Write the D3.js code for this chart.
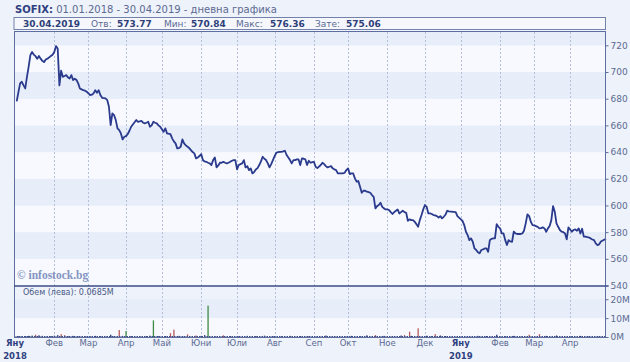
<!DOCTYPE html>
<html><head><meta charset="utf-8">
<script src="https://cdn.jsdelivr.net/npm/d3@7"></script>
<style>
html,body{margin:0;padding:0;background:#eef2fa;}
svg{display:block;font-family:"DejaVu Sans",Verdana,sans-serif;}
</style></head>
<body>
<svg id="chart" width="630" height="362"></svg>
<script>
// ---------- DATA ----------
const priceDates = [
"2018-01-02","2018-01-03","2018-01-04","2018-01-05","2018-01-08","2018-01-09","2018-01-10","2018-01-11","2018-01-12",
"2018-01-15","2018-01-16","2018-01-17","2018-01-18","2018-01-19","2018-01-22","2018-01-23","2018-01-24","2018-01-25","2018-01-26",
"2018-01-29","2018-01-30","2018-01-31","2018-02-01","2018-02-02","2018-02-05","2018-02-06","2018-02-07","2018-02-08","2018-02-09",
"2018-02-12","2018-02-13","2018-02-14","2018-02-15","2018-02-16","2018-02-19","2018-02-20","2018-02-21","2018-02-22","2018-02-23",
"2018-02-26","2018-02-27","2018-02-28","2018-03-01","2018-03-02","2018-03-05","2018-03-06","2018-03-07","2018-03-08","2018-03-09",
"2018-03-12","2018-03-13","2018-03-14","2018-03-15","2018-03-16","2018-03-19","2018-03-20","2018-03-21","2018-03-22","2018-03-23",
"2018-03-26","2018-03-27","2018-03-28","2018-03-29","2018-03-30","2018-04-02","2018-04-03","2018-04-04","2018-04-05","2018-04-10",
"2018-04-11","2018-04-12","2018-04-13","2018-04-16","2018-04-17","2018-04-18","2018-04-19","2018-04-20","2018-04-23","2018-04-24",
"2018-04-25","2018-04-26","2018-04-27","2018-04-30","2018-05-02","2018-05-03","2018-05-04","2018-05-08","2018-05-09","2018-05-10",
"2018-05-11","2018-05-14","2018-05-15","2018-05-16","2018-05-17","2018-05-18","2018-05-21","2018-05-22","2018-05-23","2018-05-25",
"2018-05-28","2018-05-29","2018-05-30","2018-05-31","2018-06-01","2018-06-04","2018-06-05","2018-06-06","2018-06-07","2018-06-08",
"2018-06-11","2018-06-12","2018-06-13","2018-06-14","2018-06-15","2018-06-18","2018-06-19","2018-06-20","2018-06-21","2018-06-22",
"2018-06-25","2018-06-26","2018-06-27","2018-06-28","2018-06-29","2018-07-02","2018-07-03","2018-07-04","2018-07-05","2018-07-06",
"2018-07-09","2018-07-10","2018-07-11","2018-07-12","2018-07-13","2018-07-16","2018-07-17","2018-07-18","2018-07-19","2018-07-20",
"2018-07-23","2018-07-24","2018-07-25","2018-07-26","2018-07-27","2018-07-30","2018-07-31","2018-08-01","2018-08-02","2018-08-03",
"2018-08-06","2018-08-07","2018-08-08","2018-08-09","2018-08-10","2018-08-13","2018-08-14","2018-08-15","2018-08-16","2018-08-17",
"2018-08-20","2018-08-21","2018-08-22","2018-08-23","2018-08-24","2018-08-27","2018-08-28","2018-08-29","2018-08-30","2018-08-31",
"2018-09-03","2018-09-04","2018-09-05","2018-09-07","2018-09-10","2018-09-11","2018-09-12","2018-09-13","2018-09-14","2018-09-17",
"2018-09-18","2018-09-19","2018-09-20","2018-09-21","2018-09-25","2018-09-26","2018-09-27","2018-09-28","2018-10-01","2018-10-02",
"2018-10-03","2018-10-04","2018-10-05","2018-10-08","2018-10-09","2018-10-10","2018-10-11","2018-10-12","2018-10-15","2018-10-16",
"2018-10-17","2018-10-18","2018-10-19","2018-10-22","2018-10-23","2018-10-24","2018-10-25","2018-10-26","2018-10-29","2018-10-30",
"2018-10-31","2018-11-01","2018-11-02","2018-11-05","2018-11-06","2018-11-07","2018-11-08","2018-11-09","2018-11-12","2018-11-13",
"2018-11-14","2018-11-15","2018-11-16","2018-11-19","2018-11-20","2018-11-21","2018-11-22","2018-11-23","2018-11-26","2018-11-27",
"2018-11-28","2018-11-29","2018-11-30","2018-12-03","2018-12-04","2018-12-05","2018-12-06","2018-12-07","2018-12-10","2018-12-11",
"2018-12-12","2018-12-13","2018-12-14","2018-12-17","2018-12-18","2018-12-19","2018-12-20","2018-12-21","2018-12-27","2018-12-28",
"2019-01-02","2019-01-03","2019-01-04","2019-01-07","2019-01-08","2019-01-09","2019-01-10","2019-01-11","2019-01-14","2019-01-15",
"2019-01-16","2019-01-17","2019-01-18","2019-01-21","2019-01-22","2019-01-23","2019-01-24","2019-01-25","2019-01-28","2019-01-29",
"2019-01-30","2019-01-31","2019-02-01","2019-02-04","2019-02-05","2019-02-06","2019-02-07","2019-02-08","2019-02-11","2019-02-12",
"2019-02-13","2019-02-14","2019-02-15","2019-02-18","2019-02-19","2019-02-20","2019-02-21","2019-02-22","2019-02-25","2019-02-26",
"2019-02-27","2019-02-28","2019-03-01","2019-03-05","2019-03-06","2019-03-07","2019-03-08","2019-03-11","2019-03-12","2019-03-13",
"2019-03-14","2019-03-15","2019-03-18","2019-03-19","2019-03-20","2019-03-21","2019-03-22","2019-03-25","2019-03-26","2019-03-27",
"2019-03-28","2019-03-29","2019-04-01","2019-04-02","2019-04-03","2019-04-04","2019-04-05","2019-04-08","2019-04-09","2019-04-10",
"2019-04-11","2019-04-12","2019-04-15","2019-04-16","2019-04-17","2019-04-18","2019-04-19","2019-04-22","2019-04-23","2019-04-24",
"2019-04-25","2019-04-30"];
const priceValues = [
678,685,691.5,692.7,690,687.7,696.4,704,712.7,
715,713,711.9,710,712,710,708.4,707.4,709.4,710,
711,712,713,715,719.4,717.6,690,701,696.4,697,
697.7,696,695.2,697.7,694,695,694,691.5,687.7,687,
686.4,686,685.2,684,682.7,683,684,686.4,684.4,686.4,
682.7,680.7,680.5,680.2,679,674,660.2,669,667.7,664,
657.8,656.5,654,649.5,651.5,652,653.5,656,659,664,
662.7,663,663.4,662,661.5,662,662.7,659,660,662.7,
662,661.5,660,659,655.2,657.8,654,653.5,650.3,648,
646.5,642.8,643,644,649.5,646.5,645,644,643,640,
639,635.3,636,637,638.5,634,633,632.7,632,631.5,
630.3,634,636,628.5,630,632,632,632.7,632,631.5,
632,632.7,633.5,634,634,627,630.3,631,631.5,634,
628.5,629.5,626.5,627.8,624,625,627,628,630.3,633,
636.5,635,634,631.5,628.5,631,634,637,639.5,640,
640.2,640.2,640.5,641,637.8,636,634,631.5,634,634,
634.5,634.5,630.3,635.3,635,634.5,630.3,633.5,632,632.5,
632.7,629,628,630.3,632,631,629.5,628.5,629,629.5,
627.8,627,626.5,624,624,624,624.5,626.5,627.8,623.5,
624,624,620.3,617.8,618.3,614,609.5,611,611,610.3,
610,609.5,607.8,606.5,597.8,599.5,600.3,602,599,597.8,
597,597,596.5,595,593.6,595,596,597,594,595,
596,595,594.5,588.5,589.6,589,589,587.8,586,584,
589,592.8,597,600.3,599,594,594,593.6,592.8,592.5,
592,591,592,590.3,591.5,593,596,595.5,595,592,
588.5,585.3,580.3,577.8,574,575.3,572.8,567.8,566.6,565,
564.1,566.6,567,567.8,567.8,565.3,574,575,575.3,575.3,
586,584,582.8,579,579,574,570.3,574,573,572.8,
580.3,579,578.6,578.6,578.6,579,581,586.6,593.3,592,
587.8,585.3,585,584,582.8,583,583.6,582.8,580.3,582.8,
584.6,589,599.5,595.3,586.6,584,581.6,580.3,580,579,
574.6,583.6,582,580.3,581.6,582,581,582.8,579,582.5,
576.6,576.6,576.2,576,575.3,574.5,574,571.6,570.3,570.8,
573,575.06];

// volume (million leva) and day direction: u = up, d = down, n = neutral
const volDates = [
"2018-01-03","2018-01-05","2018-01-09","2018-01-11","2018-01-15","2018-01-17","2018-01-19","2018-01-23","2018-01-26","2018-01-30",
"2018-02-01","2018-02-05","2018-02-07","2018-02-09","2018-02-13","2018-02-16","2018-02-21","2018-02-27","2018-03-02","2018-03-07",
"2018-03-12","2018-03-16","2018-03-20","2018-03-22","2018-03-27","2018-03-29","2018-04-02","2018-04-05","2018-04-12","2018-04-18",
"2018-04-20","2018-04-24","2018-04-27","2018-05-03","2018-05-08","2018-05-10","2018-05-15","2018-05-18","2018-05-22","2018-05-29",
"2018-06-01","2018-06-05","2018-06-07","2018-06-13","2018-06-20","2018-06-26","2018-07-03","2018-07-10","2018-07-17","2018-07-24",
"2018-07-31","2018-08-07","2018-08-14","2018-08-22","2018-08-29","2018-09-05","2018-09-12","2018-09-19","2018-09-27","2018-10-03",
"2018-10-10","2018-10-16","2018-10-23","2018-10-30","2018-11-06","2018-11-13","2018-11-15","2018-11-20","2018-11-21","2018-11-27",
"2018-12-04","2018-12-07","2018-12-11","2018-12-14","2018-12-19","2019-01-08","2019-01-15","2019-01-22","2019-01-30","2019-02-06",
"2019-02-13","2019-02-20","2019-02-26","2019-03-06","2019-03-12","2019-03-20","2019-04-02","2019-04-09","2019-04-16","2019-04-24"];
const volValues = [
0.4,0.3,0.5,0.6,0.8,1.2,0.9,0.6,0.4,0.5,
0.7,1.0,1.5,1.0,0.5,0.6,0.3,0.4,0.3,0.6,
0.4,0.5,1.2,0.5,3.7,0.6,3.2,0.5,0.4,0.5,
0.7,8.8,0.4,0.5,2.0,3.9,0.6,0.4,1.4,0.8,
0.6,1.0,16.6,0.4,0.9,0.5,0.4,0.6,0.5,0.7,
0.5,0.4,0.6,0.5,0.4,0.5,0.8,0.4,0.5,0.6,
0.5,0.9,1.0,0.6,0.5,0.8,1.0,2.8,0.6,4.6,
0.7,0.5,1.5,0.8,0.5,0.4,0.6,0.5,1.2,0.4,
0.6,0.5,1.2,1.5,0.6,0.8,0.4,0.6,0.4,0.5];
const volTypes = [
"n","n","n","n","u","d","n","n","n","n",
"n","n","d","d","n","n","n","n","n","n",
"n","n","n","n","d","n","u","n","n","n",
"n","u","n","n","d","d","n","n","d","d",
"n","n","u","n","d","n","n","n","n","n",
"n","n","n","n","n","n","n","n","n","n",
"n","n","d","n","n","n","d","d","n","d",
"n","n","d","n","n","n","n","n","n","n",
"n","n","d","d","n","n","n","n","n","n"];

const monthDates = ["2018-01-01","2018-02-01","2018-03-01","2018-04-01","2018-05-01","2018-06-01","2018-07-01","2018-08-01",
"2018-09-01","2018-10-01","2018-11-01","2018-12-01","2019-01-01","2019-02-01","2019-03-01","2019-04-01"];
const monthLabels = ["Яну","Фев","Мар","Апр","Май","Юни","Юли","Авг","Сеп","Окт","Ное","Дек","Яну","Фев","Мар","Апр"];
const priceTicks = [540,560,580,600,620,640,660,680,700,720];
const volTicks = [0,10,20];
const volTickLabels = ["0M","10M","20M"];
const headerLabels = ["Отв:","Мин:","Макс:","Зате:"];
const headerValues = ["573.77","570.84","576.36","575.06"];

// ---------- DRAW ----------
const parse = d3.timeParse("%Y-%m-%d");
const t0 = parse("2018-01-01");
function weekdayIndex(d){ // trading-day (weekday) axis
  const days = d3.timeDay.count(t0, d);
  return Math.floor(days/7)*5 + Math.min(days%7, 5);
}
const L = 14, R = 605.5, TOP = 32, MID = 286, BOT = 337.5;
const x = d3.scaleLinear().domain([0, weekdayIndex(parse("2019-04-30"))]).range([15, 606]);
const y = d3.scaleLinear().domain([540, 730]).range([285.5, TOP]);
const yv = d3.scaleLinear().domain([0, 27]).range([337, MID]);

const svg = d3.select("#chart");
const label = "#5b6a92";

svg.append("rect").attr("width",630).attr("height",362).attr("fill","#eef2fa");

// title
const title = svg.append("text").attr("x",15).attr("y",13).attr("font-size",10).attr("fill",label);
title.append("tspan").attr("font-weight","bold").attr("fill","#2e4080").text("SOFIX:");
title.append("tspan").text(" 01.01.2018 - 30.04.2019 - дневна графика");

// header box
svg.append("rect").attr("x",L).attr("y",17.5).attr("width",R-L).attr("height",12)
  .attr("fill","#f5f7fd").attr("stroke","#7282ad");
const hdr = svg.append("text").attr("y",27).attr("font-size",9).attr("fill",label);
hdr.append("tspan").attr("x",23).attr("font-weight","bold").attr("fill","#2e3f78").text("30.04.2019");
const lblX = [91,164,236,315], valX = [117,191,270,346];
headerLabels.forEach((s,i)=>{
  hdr.append("tspan").attr("x",lblX[i]).text(s);
  hdr.append("tspan").attr("x",valX[i]).attr("font-weight","bold").attr("fill","#2e3f78").text(headerValues[i]);
});

// price bands
const bandStarts = d3.range(540, 730, 20);
svg.append("g").selectAll("rect").data(bandStarts).join("rect")
  .attr("x",L).attr("width",R-L)
  .attr("y",d=>y(Math.min(d+20,730))).attr("height",d=>y(d)-y(Math.min(d+20,730)))
  .attr("fill",(d,i)=> i%2 ? "#e7edf9" : "#f7f9fe");

// volume bands
svg.append("rect").attr("x",L).attr("width",R-L).attr("y",MID).attr("height",yv(20)-MID).attr("fill","#eef2fb");
svg.append("rect").attr("x",L).attr("width",R-L).attr("y",yv(20)).attr("height",yv(10)-yv(20)).attr("fill","#e7edf9");
svg.append("rect").attr("x",L).attr("width",R-L).attr("y",yv(10)).attr("height",yv(0)-yv(10)).attr("fill","#f8f9fe");

// month gridlines
const months = monthDates.map(parse);
svg.append("g").selectAll("line").data(months.slice(1)).join("line")
  .attr("x1",d=>Math.round(x(weekdayIndex(d)))+0.5).attr("x2",d=>Math.round(x(weekdayIndex(d)))+0.5)
  .attr("y1",TOP).attr("y2",BOT)
  .attr("stroke","#b4bfdc").attr("stroke-dasharray","2,2").attr("stroke-width",1);

// copyright
svg.append("text").attr("x",17).attr("y",279).attr("font-family","'Liberation Serif','DejaVu Serif',serif")
  .attr("font-weight","bold").attr("font-size",11.5).attr("fill","#8494c2").text("© infostock.bg");

// volume bars
const vol = volDates.map((d,i)=>({d:parse(d), v:volValues[i], t:volTypes[i]}));
const volColor = {u:"#3f8a45", d:"#b55d5d", n:"#2b3a78"};
svg.append("g").selectAll("rect").data(vol).join("rect")
  .attr("x",d=>x(weekdayIndex(d.d))-0.6).attr("width",1.3)
  .attr("y",d=>yv(d.v)).attr("height",d=>yv(0)-yv(d.v))
  .attr("fill",d=>volColor[d.t]);
svg.append("line").attr("x1",L).attr("x2",R).attr("y1",336.5).attr("y2",336.5).attr("stroke","#3a4a86").attr("stroke-width",1).attr("stroke-dasharray","1.5,1");

svg.append("text").attr("x",23).attr("y",294.5).attr("font-size",8).attr("fill","#4a5a86").text("Обем (лева): 0.0685M");

// price line
const pts = priceDates.map((d,i)=>({d:parse(d), v:priceValues[i]}));
svg.append("path").datum(pts)
  .attr("d", d3.line().x(d=>x(weekdayIndex(d.d))).y(d=>y(d.v)))
  .attr("fill","none").attr("stroke","#2a3a8c").attr("stroke-width",1.8).attr("stroke-linejoin","round");

// frame
svg.append("rect").attr("x",L+0.5).attr("y",TOP-0.5).attr("width",R-L-0.5).attr("height",BOT-TOP+0.5)
  .attr("fill","none").attr("stroke","#5d6d9d");
svg.append("line").attr("x1",L).attr("x2",R+3).attr("y1",MID).attr("y2",MID).attr("stroke","#3d4d88").attr("stroke-width",1.3);

// right axes
const ay = d3.axisRight(y).tickValues(priceTicks).tickSize(3).tickPadding(2);
const gy = svg.append("g").attr("transform",`translate(${R},0)`).call(ay);
const av = d3.axisRight(yv).tickValues(volTicks).tickSize(3).tickPadding(2).tickFormat((d,i)=>volTickLabels[i]);
const gv = svg.append("g").attr("transform",`translate(${R},0)`).call(av);
[gy,gv].forEach(g=>{
  g.select(".domain").remove();
  g.selectAll("line").attr("stroke","#5d6d9d");
  g.selectAll("text").attr("font-size",9).attr("fill",label).attr("font-family","'DejaVu Sans',Verdana,sans-serif");
});

// month axis labels
const ml = svg.append("g").attr("font-size",8.5).attr("text-anchor","middle");
months.forEach((m,i)=>{
  const isYear = m.getMonth()===0;
  const cx = x(weekdayIndex(m));
  ml.append("text").attr("x",cx).attr("y",346).attr("fill",isYear?"#2e3f80":label)
    .attr("font-weight",isYear?"bold":"normal").text(monthLabels[i]);
  if(isYear) ml.append("text").attr("x",cx).attr("y",359).attr("fill","#2e3f80").attr("font-weight","bold").text(m.getFullYear());
});
</script>
</body></html>
